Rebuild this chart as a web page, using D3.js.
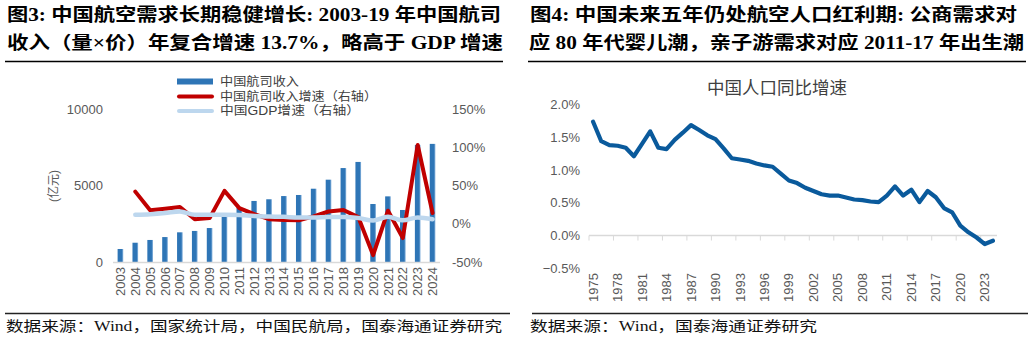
<!DOCTYPE html>
<html><head><meta charset="utf-8">
<script src="https://cdn.jsdelivr.net/npm/d3@7/dist/d3.min.js"></script>
<style>
html,body{margin:0;padding:0;background:#fff;}
svg{display:block;}
</style></head>
<body>
<svg id="c" width="1032" height="340"></svg>
<script>
// ---------- data ----------
const revYears = ["2003","2004","2005","2006","2007","2008","2009","2010","2011","2012","2013","2014","2015","2016","2017","2018","2019","2020","2021","2022","2023","2024"];
const revenue = [850,1260,1440,1630,1940,2030,2220,2960,3550,3990,4100,4310,4380,4790,5380,6140,6540,3790,4290,3400,7650,7720];
const growthYears = ["2004","2005","2006","2007","2008","2009","2010","2011","2012","2013","2014","2015","2016","2017","2018","2019","2020","2021","2022","2023","2024"];
const revGrowth = [42,17.5,19.6,22,6,7.4,43,20.5,12.6,6,5,4.5,9.6,16,18,8.7,-41,17,-18.7,103,14];
const gdpGrowth = [11.7,12.5,14,16,11.7,11.7,11.7,11.5,10,9.5,9,8.2,8.2,8.7,8.7,7.4,4.3,9.2,4.5,8.2,6];
const leftTicks = [0,5000,10000];
const rightTicks = [-50,0,50,100,150];
const legendLabels = ["中国航司收入","中国航司收入增速（右轴）","中国GDP增速（右轴）"];

const popYears = d3.range(1975,2025).map(String);
const popGrowth = [1.736,1.44,1.38,1.37,1.34,1.21,1.40,1.59,1.34,1.32,1.46,1.57,1.685,1.61,1.53,1.47,1.33,1.18,1.16,1.14,1.10,1.07,1.05,0.945,0.84,0.80,0.73,0.68,0.63,0.61,0.61,0.58,0.55,0.54,0.52,0.51,0.61,0.75,0.61,0.70,0.51,0.68,0.585,0.42,0.355,0.15,0.05,-0.03,-0.13,-0.08];
const popTicks = [-0.5,0,0.5,1.0,1.5,2.0];

const titleL1 = "图3:  中国航空需求长期稳健增长: 2003-19 年中国航司";
const titleL2 = "收入（量×价）年复合增速 13.7%，略高于 GDP 增速";
const titleR1 = "图4:  中国未来五年仍处航空人口红利期: 公商需求对";
const titleR2 = "应 80 年代婴儿潮，亲子游需求对应 2011-17 年出生潮";
const sourceL = "数据来源：Wind，国家统计局，中国民航局，国泰海通证券研究";
const sourceR = "数据来源：Wind，国泰海通证券研究";
const popTitle = "中国人口同比增速";

// ---------- setup ----------
const svg = d3.select("#c");
const sansCJK = "'Liberation Sans','Noto Sans CJK SC',sans-serif";
const titleFont = "'Liberation Serif','Noto Sans CJK SC',serif";

// titles
function title(text, x, y, len){
  svg.append("text").attr("x",x).attr("y",y).text(text)
    .attr("font-family",titleFont).attr("font-weight","bold").attr("font-size",18)
    .attr("fill","#000").attr("textLength",len).attr("lengthAdjust","spacingAndGlyphs");
}
title(titleL1, 7, 21, 494);
title(titleL2, 7, 49, 496);
title(titleR1, 530, 21, 487);
title(titleR2, 529, 49, 495);
svg.append("line").attr("x1",5).attr("x2",503).attr("y1",61.5).attr("y2",61.5).attr("stroke","#000").attr("stroke-width",1.5);
svg.append("line").attr("x1",528).attr("x2",1026).attr("y1",61.5).attr("y2",61.5).attr("stroke","#000").attr("stroke-width",1.5);

// footers
svg.append("line").attr("x1",5).attr("x2",510).attr("y1",313.5).attr("y2",313.5).attr("stroke","#222").attr("stroke-width",1.5);
svg.append("line").attr("x1",532).attr("x2",1028).attr("y1",313.5).attr("y2",313.5).attr("stroke","#222").attr("stroke-width",1.5);
function src(text,x,len){
  svg.append("text").attr("x",x).attr("y",331).text(text)
    .attr("font-family",titleFont).attr("font-size",14).attr("fill","#111")
    .attr("textLength",len).attr("lengthAdjust","spacingAndGlyphs");
}
src(sourceL, 6, 496);
src(sourceR, 530, 287);

// ---------- left chart ----------
const xL = d3.scaleBand().domain(revYears).range([113,440]).paddingInner(0.62).paddingOuter(0.31);
const yL = d3.scaleLinear().domain([0,10000]).range([262,109]);
const yR = d3.scaleLinear().domain([-50,150]).range([262,109]);
const cx = d => xL(d) + xL.bandwidth()/2;

const defs = svg.append("defs");
const grad = defs.append("linearGradient").attr("id","barg").attr("x1","0").attr("x2","1").attr("y1","0").attr("y2","0");
grad.append("stop").attr("offset","0%").attr("stop-color","#2E75B6");
grad.append("stop").attr("offset","72%").attr("stop-color","#2E75B6");
grad.append("stop").attr("offset","100%").attr("stop-color","#8FB8E0");

const gL = svg.append("g");
gL.selectAll("rect.bar").data(revYears).join("rect").attr("class","bar")
  .attr("x",d=>xL(d)).attr("width",xL.bandwidth())
  .attr("y",(d,i)=>yL(revenue[i])).attr("height",(d,i)=>yL(0)-yL(revenue[i]))
  .attr("fill","url(#barg)");

gL.append("line").attr("x1",113).attr("x2",440).attr("y1",yL(0)+0.5).attr("y2",yL(0)+0.5).attr("stroke","#D9D9D9").attr("stroke-width",1.5);

const lineR = d3.line().x((d,i)=>cx(growthYears[i])).y(d=>yR(d));
gL.append("path").datum(revGrowth).attr("d",lineR).attr("fill","none").attr("stroke","#C00000").attr("stroke-width",4).attr("stroke-linejoin","round").attr("stroke-linecap","round");
gL.append("path").datum(gdpGrowth).attr("d",lineR.curve(d3.curveMonotoneX)).attr("fill","none").attr("stroke","#BDD7EE").attr("stroke-width",4.5).attr("stroke-linejoin","round").attr("stroke-linecap","round");

// left axis labels
const axL = gL.append("g").attr("transform","translate(103,0)").call(d3.axisLeft(yL).tickValues(leftTicks).tickSize(0).tickPadding(0).tickFormat(d3.format("d")));
axL.select(".domain").remove();
axL.selectAll("text").attr("font-family",sansCJK).attr("font-size",13).attr("fill","#595959");
const axR = gL.append("g").attr("transform","translate(452,0)").call(d3.axisRight(yR).tickValues(rightTicks).tickSize(0).tickPadding(0).tickFormat(d=>d+"%"));
axR.select(".domain").remove();
axR.selectAll("text").attr("font-family",sansCJK).attr("font-size",13).attr("fill","#595959");

// x labels left
const axXL = gL.append("g").attr("transform","translate(0,267)").call(d3.axisBottom(xL).tickSize(0).tickPadding(0));
axXL.select(".domain").remove();
axXL.selectAll("text").attr("transform","rotate(-90)").attr("text-anchor","end").attr("x",0).attr("y",0).attr("dy","0.35em")
  .attr("font-family",sansCJK).attr("font-size",13).attr("fill","#595959");

// y axis title
svg.append("text").attr("transform","translate(54,186) rotate(-90)").attr("text-anchor","middle").attr("dy","0.35em")
  .text("(亿元)").attr("font-family",sansCJK).attr("font-size",12).attr("fill","#595959");

// legend
const lg = svg.append("g");
const legY = [81.5,96.5,111];
lg.append("rect").attr("x",177).attr("y",legY[0]-3).attr("width",36).attr("height",6).attr("fill","#2E75B6");
lg.append("line").attr("x1",179).attr("x2",212).attr("y1",legY[1]).attr("y2",legY[1]).attr("stroke","#C00000").attr("stroke-width",4).attr("stroke-linecap","round");
lg.append("line").attr("x1",179).attr("x2",212).attr("y1",legY[2]).attr("y2",legY[2]).attr("stroke","#BDD7EE").attr("stroke-width",4).attr("stroke-linecap","round");
lg.selectAll("text").data(legendLabels).join("text").attr("x",220).attr("y",(d,i)=>legY[i]).attr("dy","0.36em")
  .text(d=>d).attr("font-family",sansCJK).attr("font-size",12).attr("fill","#404040")
  .attr("textLength",(d,i)=>[79,157,140][i]).attr("lengthAdjust","spacingAndGlyphs");

// ---------- right chart ----------
const xP = d3.scaleBand().domain(popYears).range([589,997]);
const yP = d3.scaleLinear().domain([-0.5,2.0]).range([268.3,104.5]);
const gR = svg.append("g");

gR.append("text").attr("x",777).attr("y",88).attr("text-anchor","middle").attr("dy","0.35em").text(popTitle)
  .attr("font-family","'Noto Sans CJK SC',sans-serif").attr("font-size",17.5).attr("fill","#404040");

const axP = gR.append("g").attr("transform","translate(580,0)").call(d3.axisLeft(yP).tickValues(popTicks).tickSize(0).tickPadding(0).tickFormat(d=>d3.format(".1f")(d)+"%"));
axP.select(".domain").remove();
axP.selectAll("text").attr("font-family",sansCJK).attr("font-size",13).attr("fill","#595959");

// zero axis with ticks at every third category boundary
const y0 = yP(0);
gR.append("line").attr("x1",589).attr("x2",997).attr("y1",y0).attr("y2",y0).attr("stroke","#D9D9D9").attr("stroke-width",1.5);
const tickBounds = popYears.filter((d,i)=>i%3===0);
gR.selectAll("line.tk").data(tickBounds).join("line").attr("class","tk")
  .attr("x1",d=>xP(d)).attr("x2",d=>xP(d)).attr("y1",y0).attr("y2",y0+5).attr("stroke","#D9D9D9").attr("stroke-width",1);

const axXP = gR.append("g").attr("transform","translate(0,273)").call(d3.axisBottom(xP).tickValues(tickBounds).tickSize(0).tickPadding(0));
axXP.select(".domain").remove();
axXP.selectAll("text").attr("transform","rotate(-90)").attr("text-anchor","end").attr("x",0).attr("y",0).attr("dy","0.35em")
  .attr("font-family",sansCJK).attr("font-size",13).attr("fill","#595959");

const lineP = d3.line().x((d,i)=>xP(popYears[i])+xP.bandwidth()/2).y(d=>yP(d));
gR.append("path").datum(popGrowth).attr("d",lineP).attr("fill","none").attr("stroke","#0A5A9C").attr("stroke-width",4.2).attr("stroke-linejoin","round").attr("stroke-linecap","round");
</script>
</body></html>
